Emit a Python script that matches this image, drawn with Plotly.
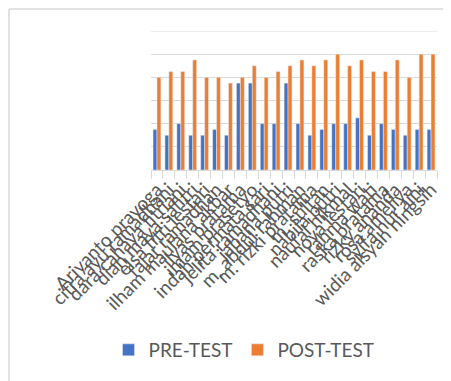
import plotly.graph_objects as go

names = [
    "Ariyanto prayoga", "citra ayu ramadhani", "dara cahaya fitriani", "dian maya safitri",
    "elsa fitri lestari", "fajar ramadhan", "ilham maulana akbar", "ilyas pratama",
    "imam prasetyo", "indah permata sari", "jelita ramadhani", "jabana putri",
    "m. abdul rahman", "m. rizki pratama", "m. sultan", "nabila putri",
    "naufal hikmal", "nova lestari", "rahma wati", "raska pratama",
    "rizky ananda", "rosa ameliya", "syifa nur aini", "widia alsyah ningsih",
]
pre_test = [35, 30, 40, 30, 30, 35, 30, 75, 75, 40, 40, 75,
            40, 30, 35, 40, 40, 45, 30, 40, 35, 30, 35, 35]
post_test = [80, 85, 85, 95, 80, 80, 75, 80, 90, 80, 85, 90,
             95, 90, 95, 100, 90, 95, 85, 85, 95, 80, 100, 100]
y_max = 120

# page body has an 8px margin; figure coords = page coords - 8
OFF = 8
W, H = 451 - OFF, 381 - OFF
L, R, T = 151 - OFF, 14, 31 - OFF
plot_bottom = 170 - OFF
B = H - plot_bottom
pw, ph = W - L - R, H - T - B

def px(x):  # page x -> paper
    return (x - OFF - L) / pw

def py(y):  # page y -> paper
    return (H - B - (y - OFF)) / ph

fig = go.Figure()
fig.add_trace(go.Bar(x=names, y=pre_test, name="PRE-TEST", marker_color="#4472C4"))
fig.add_trace(go.Bar(x=names, y=post_test, name="POST-TEST", marker_color="#ED7D31"))

fig.update_layout(
    width=W, height=H,
    margin=dict(l=L, r=R, t=T, b=B, autoexpand=False),
    paper_bgcolor="white", plot_bgcolor="white",
    barmode="group", bargap=0.34, bargroupgap=0,
    font=dict(family="Lato, Open Sans, sans-serif", color="#595959"),
    showlegend=True,
    legend=dict(orientation="h", x=px(244), xanchor="center", y=py(350), yanchor="middle",
                font=dict(size=19, color="#595959"), itemwidth=30),
    xaxis=dict(type="category", tickangle=-45, tickmode="array", tickvals=names, ticktext=names,
               tickfont=dict(size=19, color="#595959"), ticks="outside", ticklen=8,
               tickcolor="#d9d9d9", tickson="boundaries", showline=True, linecolor="#d9d9d9",
               showgrid=False, automargin=False),
    yaxis=dict(range=[0, y_max], dtick=20, showticklabels=False, showgrid=True,
               gridcolor="#d9d9d9", zeroline=False, showline=False, automargin=False),
    shapes=[
        dict(type="line", xref="paper", yref="y", x0=0, x1=1, y0=y_max, y1=y_max,
             line=dict(color="#d9d9d9", width=1)),
        dict(type="line", xref="paper", yref="paper", x0=px(9), x1=px(460), y0=py(9), y1=py(9),
             line=dict(color="#d9d9d9", width=1.5)),
        dict(type="line", xref="paper", yref="paper", x0=px(9), x1=px(9), y0=py(9), y1=py(390),
             line=dict(color="#d9d9d9", width=1.5)),
    ],
)

fig.write_html("out.html")
